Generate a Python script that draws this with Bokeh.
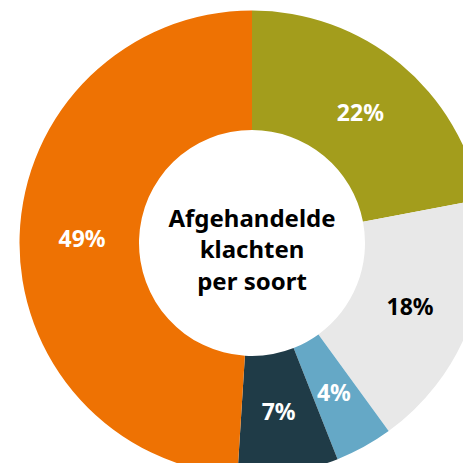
import numpy as np
from bokeh.plotting import figure
from bokeh.models import Range1d, ColumnDataSource
from bokeh.core.properties import value
from bokeh.embed import file_html
from bokeh.resources import INLINE

categories = ["A", "B", "C", "D", "E"]
percentages = [22, 18, 4, 7, 49]
labels = ["22%", "18%", "4%", "7%", "49%"]
colors = ["#a39d1c", "#e8e8e8", "#65a8c6", "#1f3b47", "#ee7203"]
label_colors = ["white", "black", "white", "white", "white"]
center_lines = ["Afgehandelde", "klachten", "per soort"]

W = 463
H = 463
# data coordinates = reference pixel coordinates (y flipped)
cx, cy = 251.5, H - 242.5
r_out, r_in = 232.5, 113.0
r_lab = 170.0

vals = np.array(percentages, dtype=float)
frac = vals / vals.sum()
cum_end = np.cumsum(frac)
cum_start = cum_end - frac
start = np.pi / 2 - 2 * np.pi * cum_start
end = np.pi / 2 - 2 * np.pi * cum_end
mid = (start + end) / 2

src = ColumnDataSource(dict(
    cat=categories, start=start, end=end, color=colors,
    lx=cx + r_lab * np.cos(mid), ly=cy + r_lab * np.sin(mid),
    label=labels, lcolor=label_colors,
))

p = figure(width=W, height=H, output_backend="svg", toolbar_location=None,
           x_range=Range1d(0, W), y_range=Range1d(0, H),
           min_border=0, outline_line_color=None)
p.axis.visible = False
p.grid.visible = False
p.background_fill_color = "white"
p.border_fill_color = "white"

p.annular_wedge(x=cx, y=cy, inner_radius=r_in, outer_radius=r_out,
                start_angle="start", end_angle="end", direction="clock",
                fill_color="color", line_color=None, source=src)

p.text(x="lx", y="ly", text="label", text_color="lcolor", source=src,
       text_font=value("Noto Sans"), text_font_style="bold",
       text_font_size="23px", text_align="center", text_baseline="middle")

line_gap = 31.5
mid_y = cy - 5.5
ys = [mid_y + line_gap, mid_y, mid_y - line_gap]
csrc = ColumnDataSource(dict(x=[cx] * 3, y=ys, t=center_lines))
p.text(x="x", y="y", text="t", source=csrc, text_color="black",
       text_font=value("Noto Sans"), text_font_style="bold",
       text_font_size="24px", text_align="center", text_baseline="middle")

open("out.html", "w").write(file_html(p, INLINE))
